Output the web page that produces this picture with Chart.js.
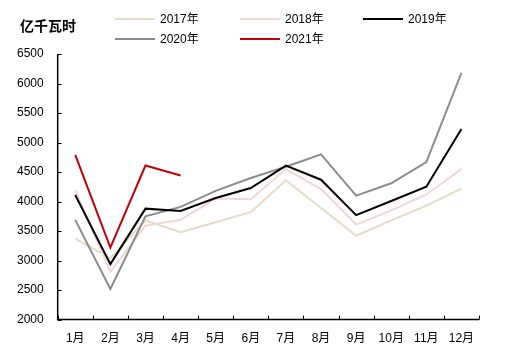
<!DOCTYPE html>
<html><head><meta charset="utf-8">
<script src="https://cdn.jsdelivr.net/npm/chart.js@4"></script>
<style>
html,body{margin:0;padding:0;background:#fff;}
#wrap{position:relative;width:507px;height:351px;}
#c{position:absolute;left:0;top:0;}
#ttl{position:absolute;left:20px;top:16px;font:bold 14px "Noto Sans CJK SC",sans-serif;color:#000;line-height:18px;}
.lg{position:absolute;font:12px "Liberation Sans","Noto Sans CJK SC",sans-serif;color:#000;height:14px;line-height:14px;white-space:nowrap;}
.lg span.ln{display:inline-block;width:40px;height:2px;vertical-align:middle;margin-right:5px;position:relative;top:-1px;}
</style></head>
<body><div id="wrap"><canvas id="c" width="507" height="351"></canvas><div id="ttl">亿千瓦时</div></div>
<script>
const categories = ['1月','2月','3月','4月','5月','6月','7月','8月','9月','10月','11月','12月'];
const y2017 = [3370,3040,3680,3480,3650,3820,4360,3890,3420,3680,3930,4220];
const y2018 = [4190,2810,3590,3690,4050,4040,4550,4210,3610,3850,4120,4550];
const y2019 = [4110,2940,3880,3840,4060,4230,4610,4370,3770,4010,4250,5230];
const y2020 = [3690,2520,3750,3910,4180,4400,4590,4800,4100,4310,4670,6180];
const y2021 = [4790,3220,4610,4440];
const yTicks = [2000,2500,3000,3500,4000,4500,5000,5500,6000,6500];
const seriesNames = ['2017年','2018年','2019年','2020年','2021年'];
const seriesColors = ['#e5dbc6','#f1d6d6','#000000','#8c8c8c','#c0000c'];
const seriesData = [y2017,y2018,y2019,y2020,y2021];

const datasets = seriesData.map((d,i)=>({label:seriesNames[i],data:d,borderColor:seriesColors[i],backgroundColor:seriesColors[i],borderWidth:2,pointRadius:0,tension:0,fill:false}));
const order = [0,1,3,2,4];
datasets.forEach((ds,i)=>{ds.order = 5 - order.indexOf(i);});

const innerTicks = {
  id:'innerTicks',
  afterDraw(chart){
    const ctx = chart.ctx, x = chart.scales.x, y = chart.scales.y, a = chart.chartArea;
    ctx.save();
    ctx.strokeStyle='#000'; ctx.lineWidth=1.5;
    ctx.beginPath();
    ctx.moveTo(a.left, a.top); ctx.lineTo(a.left, a.bottom); ctx.lineTo(a.right, a.bottom);
    ctx.stroke();
    ctx.lineWidth=1;
    ctx.beginPath();
    yTicks.forEach(v=>{const p=Math.round(y.getPixelForValue(v))+0.5; ctx.moveTo(a.left,p); ctx.lineTo(a.left+4,p);});
    const n = categories.length;
    for(let i=0;i<=n;i++){
      const p = i<n ? x.getPixelForValue(i) - (x.getPixelForValue(1)-x.getPixelForValue(0))/2 : a.right;
      const px = Math.round(p)+0.5;
      ctx.moveTo(px,a.bottom); ctx.lineTo(px,a.bottom-4);
    }
    ctx.stroke();
    ctx.restore();
  }
};

const chart = new Chart(document.getElementById('c'),{
  type:'line',
  data:{labels:categories,datasets:datasets},
  options:{
    responsive:false,animation:false,
    layout:{padding:{left:3,right:28,top:54,bottom:-7}},
    plugins:{legend:{display:false},title:{display:false},tooltip:{enabled:false}},
    scales:{
      x:{offset:true,grid:{display:false,drawTicks:false},border:{display:false},
         ticks:{color:'#000',padding:12,maxRotation:0,autoSkip:false,font:{family:'"Liberation Sans","Noto Sans CJK SC",sans-serif',size:12}}},
      y:{min:2000,max:6500,grid:{display:false,drawTicks:false},border:{display:false},
         afterBuildTicks(s){s.ticks = yTicks.map(v=>({value:v}));},
         ticks:{color:'#000',padding:14,callback:v=>String(v),font:{family:'"Liberation Sans",sans-serif',size:12}}}
    }
  },
  plugins:[innerTicks]
});

const wrap = document.getElementById('wrap');
const pos = [[115,12],[240,12],[363,12],[115,32],[240,32]];
seriesNames.forEach((n,i)=>{
  const d=document.createElement('div');d.className='lg';
  d.style.left=pos[i][0]+'px';d.style.top=pos[i][1]+'px';
  d.innerHTML='<span class="ln" style="background:'+seriesColors[i]+'"></span>'+n;
  wrap.appendChild(d);
});
</script></body></html>
